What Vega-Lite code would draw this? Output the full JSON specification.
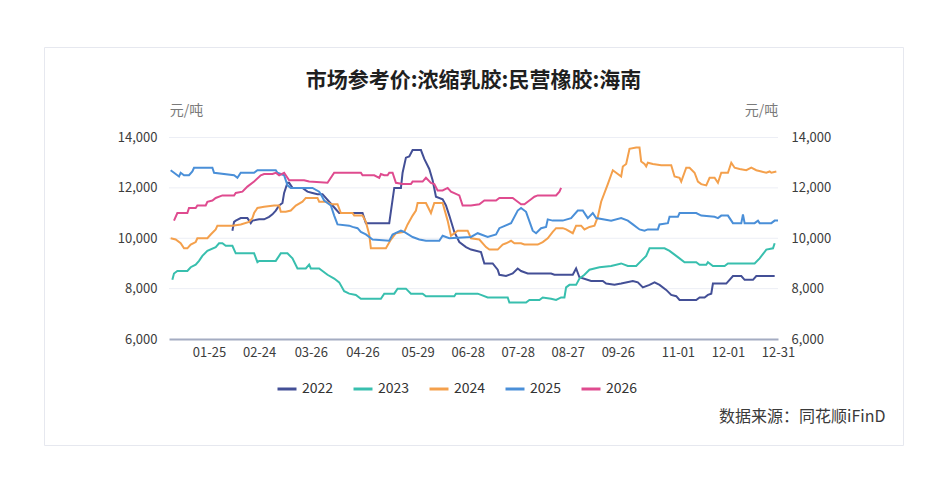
{
  "$schema": "https://vega.github.io/schema/vega-lite/v6.json",
  "width": 859,
  "height": 398,
  "autosize": {"type": "none"},
  "padding": {"left": 44, "top": 47, "right": 46, "bottom": 57},
  "background": "white",
  "title": {
    "text": "市场参考价:浓缩乳胶:民营橡胶:海南",
    "anchor": "middle",
    "offset": -44,
    "fontSize": 21,
    "fontWeight": "bold",
    "color": "#1f1f1f",
    "font": "Noto Sans CJK SC"
  },
  "config": {
    "font": "Noto Sans CJK SC",
    "view": {"stroke": "#e6e8ef", "strokeWidth": 1}
  },
  "datasets": {
    "grid": [{"price": 8000}, {"price": 10000}, {"price": 12000}, {"price": 14000}],
    "prices": [
      {"year": "2022", "date": "2022-02-08", "price": 10300},
      {"year": "2022", "date": "2022-02-09", "price": 10650},
      {"year": "2022", "date": "2022-02-10", "price": 10700},
      {"year": "2022", "date": "2022-02-13", "price": 10800},
      {"year": "2022", "date": "2022-02-17", "price": 10800},
      {"year": "2022", "date": "2022-02-19", "price": 10600},
      {"year": "2022", "date": "2022-02-20", "price": 10700},
      {"year": "2022", "date": "2022-02-24", "price": 10750},
      {"year": "2022", "date": "2022-02-27", "price": 10750},
      {"year": "2022", "date": "2022-03-01", "price": 10850},
      {"year": "2022", "date": "2022-03-03", "price": 10950},
      {"year": "2022", "date": "2022-03-05", "price": 11100},
      {"year": "2022", "date": "2022-03-07", "price": 11300},
      {"year": "2022", "date": "2022-03-09", "price": 11400},
      {"year": "2022", "date": "2022-03-10", "price": 11800},
      {"year": "2022", "date": "2022-03-12", "price": 12200},
      {"year": "2022", "date": "2022-03-13", "price": 12200},
      {"year": "2022", "date": "2022-03-15", "price": 12000},
      {"year": "2022", "date": "2022-03-21", "price": 12000},
      {"year": "2022", "date": "2022-03-24", "price": 11850},
      {"year": "2022", "date": "2022-03-27", "price": 11800},
      {"year": "2022", "date": "2022-03-30", "price": 11750},
      {"year": "2022", "date": "2022-04-02", "price": 11750},
      {"year": "2022", "date": "2022-04-06", "price": 11450},
      {"year": "2022", "date": "2022-04-10", "price": 11150},
      {"year": "2022", "date": "2022-04-12", "price": 11000},
      {"year": "2022", "date": "2022-04-26", "price": 11000},
      {"year": "2022", "date": "2022-04-28", "price": 10600},
      {"year": "2022", "date": "2022-05-12", "price": 10600},
      {"year": "2022", "date": "2022-05-15", "price": 12000},
      {"year": "2022", "date": "2022-05-19", "price": 12000},
      {"year": "2022", "date": "2022-05-20", "price": 12600},
      {"year": "2022", "date": "2022-05-22", "price": 13200},
      {"year": "2022", "date": "2022-05-24", "price": 13250},
      {"year": "2022", "date": "2022-05-26", "price": 13500},
      {"year": "2022", "date": "2022-05-31", "price": 13500},
      {"year": "2022", "date": "2022-06-02", "price": 13150},
      {"year": "2022", "date": "2022-06-05", "price": 12750},
      {"year": "2022", "date": "2022-06-07", "price": 12300},
      {"year": "2022", "date": "2022-06-09", "price": 11650},
      {"year": "2022", "date": "2022-06-13", "price": 11550},
      {"year": "2022", "date": "2022-06-15", "price": 11300},
      {"year": "2022", "date": "2022-06-17", "price": 10900},
      {"year": "2022", "date": "2022-06-20", "price": 10250},
      {"year": "2022", "date": "2022-06-23", "price": 9850},
      {"year": "2022", "date": "2022-06-27", "price": 9650},
      {"year": "2022", "date": "2022-06-30", "price": 9550},
      {"year": "2022", "date": "2022-07-06", "price": 9450},
      {"year": "2022", "date": "2022-07-08", "price": 9000},
      {"year": "2022", "date": "2022-07-13", "price": 9000},
      {"year": "2022", "date": "2022-07-16", "price": 8750},
      {"year": "2022", "date": "2022-07-17", "price": 8550},
      {"year": "2022", "date": "2022-07-21", "price": 8500},
      {"year": "2022", "date": "2022-07-25", "price": 8600},
      {"year": "2022", "date": "2022-07-28", "price": 8800},
      {"year": "2022", "date": "2022-07-30", "price": 8700},
      {"year": "2022", "date": "2022-08-03", "price": 8600},
      {"year": "2022", "date": "2022-08-17", "price": 8600},
      {"year": "2022", "date": "2022-08-19", "price": 8550},
      {"year": "2022", "date": "2022-08-30", "price": 8550},
      {"year": "2022", "date": "2022-09-01", "price": 8800},
      {"year": "2022", "date": "2022-09-03", "price": 8450},
      {"year": "2022", "date": "2022-09-10", "price": 8300},
      {"year": "2022", "date": "2022-09-17", "price": 8300},
      {"year": "2022", "date": "2022-09-19", "price": 8200},
      {"year": "2022", "date": "2022-09-24", "price": 8150},
      {"year": "2022", "date": "2022-09-28", "price": 8200},
      {"year": "2022", "date": "2022-10-05", "price": 8300},
      {"year": "2022", "date": "2022-10-08", "price": 8250},
      {"year": "2022", "date": "2022-10-11", "price": 8050},
      {"year": "2022", "date": "2022-10-15", "price": 8150},
      {"year": "2022", "date": "2022-10-18", "price": 8250},
      {"year": "2022", "date": "2022-10-21", "price": 8150},
      {"year": "2022", "date": "2022-10-25", "price": 7950},
      {"year": "2022", "date": "2022-10-28", "price": 7750},
      {"year": "2022", "date": "2022-10-31", "price": 7700},
      {"year": "2022", "date": "2022-11-02", "price": 7550},
      {"year": "2022", "date": "2022-11-12", "price": 7550},
      {"year": "2022", "date": "2022-11-14", "price": 7650},
      {"year": "2022", "date": "2022-11-17", "price": 7650},
      {"year": "2022", "date": "2022-11-19", "price": 7750},
      {"year": "2022", "date": "2022-11-21", "price": 7800},
      {"year": "2022", "date": "2022-11-22", "price": 8200},
      {"year": "2022", "date": "2022-11-30", "price": 8200},
      {"year": "2022", "date": "2022-12-04", "price": 8500},
      {"year": "2022", "date": "2022-12-09", "price": 8500},
      {"year": "2022", "date": "2022-12-11", "price": 8350},
      {"year": "2022", "date": "2022-12-16", "price": 8350},
      {"year": "2022", "date": "2022-12-18", "price": 8500},
      {"year": "2022", "date": "2022-12-29", "price": 8500},

      {"year": "2023", "date": "2023-01-03", "price": 8350},
      {"year": "2023", "date": "2023-01-04", "price": 8600},
      {"year": "2023", "date": "2023-01-06", "price": 8700},
      {"year": "2023", "date": "2023-01-12", "price": 8700},
      {"year": "2023", "date": "2023-01-14", "price": 8850},
      {"year": "2023", "date": "2023-01-17", "price": 8950},
      {"year": "2023", "date": "2023-01-19", "price": 9100},
      {"year": "2023", "date": "2023-01-21", "price": 9300},
      {"year": "2023", "date": "2023-01-24", "price": 9500},
      {"year": "2023", "date": "2023-01-29", "price": 9650},
      {"year": "2023", "date": "2023-01-31", "price": 9800},
      {"year": "2023", "date": "2023-02-02", "price": 9800},
      {"year": "2023", "date": "2023-02-04", "price": 9700},
      {"year": "2023", "date": "2023-02-08", "price": 9700},
      {"year": "2023", "date": "2023-02-10", "price": 9400},
      {"year": "2023", "date": "2023-02-21", "price": 9400},
      {"year": "2023", "date": "2023-02-23", "price": 9050},
      {"year": "2023", "date": "2023-02-24", "price": 9100},
      {"year": "2023", "date": "2023-03-05", "price": 9100},
      {"year": "2023", "date": "2023-03-08", "price": 9400},
      {"year": "2023", "date": "2023-03-12", "price": 9400},
      {"year": "2023", "date": "2023-03-15", "price": 9200},
      {"year": "2023", "date": "2023-03-18", "price": 8800},
      {"year": "2023", "date": "2023-03-23", "price": 8800},
      {"year": "2023", "date": "2023-03-25", "price": 8950},
      {"year": "2023", "date": "2023-03-26", "price": 8800},
      {"year": "2023", "date": "2023-03-31", "price": 8800},
      {"year": "2023", "date": "2023-04-01", "price": 8750},
      {"year": "2023", "date": "2023-04-05", "price": 8550},
      {"year": "2023", "date": "2023-04-09", "price": 8400},
      {"year": "2023", "date": "2023-04-12", "price": 8250},
      {"year": "2023", "date": "2023-04-15", "price": 7900},
      {"year": "2023", "date": "2023-04-18", "price": 7800},
      {"year": "2023", "date": "2023-04-22", "price": 7750},
      {"year": "2023", "date": "2023-04-25", "price": 7600},
      {"year": "2023", "date": "2023-05-07", "price": 7600},
      {"year": "2023", "date": "2023-05-09", "price": 7800},
      {"year": "2023", "date": "2023-05-15", "price": 7800},
      {"year": "2023", "date": "2023-05-17", "price": 8000},
      {"year": "2023", "date": "2023-05-22", "price": 8000},
      {"year": "2023", "date": "2023-05-25", "price": 7800},
      {"year": "2023", "date": "2023-06-01", "price": 7800},
      {"year": "2023", "date": "2023-06-03", "price": 7700},
      {"year": "2023", "date": "2023-06-20", "price": 7700},
      {"year": "2023", "date": "2023-06-21", "price": 7800},
      {"year": "2023", "date": "2023-07-04", "price": 7800},
      {"year": "2023", "date": "2023-07-06", "price": 7750},
      {"year": "2023", "date": "2023-07-10", "price": 7650},
      {"year": "2023", "date": "2023-07-22", "price": 7650},
      {"year": "2023", "date": "2023-07-23", "price": 7450},
      {"year": "2023", "date": "2023-08-02", "price": 7450},
      {"year": "2023", "date": "2023-08-04", "price": 7550},
      {"year": "2023", "date": "2023-08-10", "price": 7550},
      {"year": "2023", "date": "2023-08-12", "price": 7650},
      {"year": "2023", "date": "2023-08-17", "price": 7600},
      {"year": "2023", "date": "2023-08-20", "price": 7550},
      {"year": "2023", "date": "2023-08-23", "price": 7650},
      {"year": "2023", "date": "2023-08-25", "price": 7650},
      {"year": "2023", "date": "2023-08-26", "price": 8050},
      {"year": "2023", "date": "2023-08-28", "price": 8150},
      {"year": "2023", "date": "2023-09-01", "price": 8150},
      {"year": "2023", "date": "2023-09-03", "price": 8400},
      {"year": "2023", "date": "2023-09-06", "price": 8550},
      {"year": "2023", "date": "2023-09-09", "price": 8750},
      {"year": "2023", "date": "2023-09-15", "price": 8850},
      {"year": "2023", "date": "2023-09-22", "price": 8900},
      {"year": "2023", "date": "2023-09-28", "price": 9000},
      {"year": "2023", "date": "2023-10-02", "price": 8900},
      {"year": "2023", "date": "2023-10-07", "price": 8900},
      {"year": "2023", "date": "2023-10-10", "price": 9100},
      {"year": "2023", "date": "2023-10-13", "price": 9300},
      {"year": "2023", "date": "2023-10-15", "price": 9600},
      {"year": "2023", "date": "2023-10-24", "price": 9600},
      {"year": "2023", "date": "2023-10-27", "price": 9500},
      {"year": "2023", "date": "2023-10-30", "price": 9350},
      {"year": "2023", "date": "2023-11-01", "price": 9250},
      {"year": "2023", "date": "2023-11-05", "price": 9050},
      {"year": "2023", "date": "2023-11-12", "price": 9050},
      {"year": "2023", "date": "2023-11-14", "price": 8950},
      {"year": "2023", "date": "2023-11-18", "price": 8950},
      {"year": "2023", "date": "2023-11-19", "price": 9050},
      {"year": "2023", "date": "2023-11-22", "price": 8900},
      {"year": "2023", "date": "2023-11-29", "price": 8900},
      {"year": "2023", "date": "2023-12-01", "price": 9000},
      {"year": "2023", "date": "2023-12-17", "price": 9000},
      {"year": "2023", "date": "2023-12-20", "price": 9200},
      {"year": "2023", "date": "2023-12-24", "price": 9550},
      {"year": "2023", "date": "2023-12-28", "price": 9600},
      {"year": "2023", "date": "2023-12-29", "price": 9800},

      {"year": "2024", "date": "2024-01-02", "price": 10000},
      {"year": "2024", "date": "2024-01-05", "price": 9950},
      {"year": "2024", "date": "2024-01-08", "price": 9800},
      {"year": "2024", "date": "2024-01-10", "price": 9600},
      {"year": "2024", "date": "2024-01-12", "price": 9600},
      {"year": "2024", "date": "2024-01-14", "price": 9750},
      {"year": "2024", "date": "2024-01-17", "price": 9850},
      {"year": "2024", "date": "2024-01-18", "price": 10000},
      {"year": "2024", "date": "2024-01-24", "price": 10000},
      {"year": "2024", "date": "2024-01-26", "price": 10150},
      {"year": "2024", "date": "2024-01-29", "price": 10350},
      {"year": "2024", "date": "2024-01-30", "price": 10500},
      {"year": "2024", "date": "2024-02-08", "price": 10500},
      {"year": "2024", "date": "2024-02-13", "price": 10550},
      {"year": "2024", "date": "2024-02-18", "price": 10650},
      {"year": "2024", "date": "2024-02-20", "price": 10800},
      {"year": "2024", "date": "2024-02-21", "price": 11000},
      {"year": "2024", "date": "2024-02-23", "price": 11200},
      {"year": "2024", "date": "2024-02-27", "price": 11250},
      {"year": "2024", "date": "2024-03-04", "price": 11300},
      {"year": "2024", "date": "2024-03-07", "price": 11300},
      {"year": "2024", "date": "2024-03-08", "price": 11050},
      {"year": "2024", "date": "2024-03-11", "price": 11050},
      {"year": "2024", "date": "2024-03-14", "price": 11100},
      {"year": "2024", "date": "2024-03-17", "price": 11300},
      {"year": "2024", "date": "2024-03-21", "price": 11450},
      {"year": "2024", "date": "2024-03-23", "price": 11600},
      {"year": "2024", "date": "2024-03-30", "price": 11600},
      {"year": "2024", "date": "2024-03-31", "price": 11450},
      {"year": "2024", "date": "2024-04-04", "price": 11450},
      {"year": "2024", "date": "2024-04-07", "price": 11350},
      {"year": "2024", "date": "2024-04-11", "price": 11350},
      {"year": "2024", "date": "2024-04-13", "price": 11000},
      {"year": "2024", "date": "2024-04-20", "price": 11000},
      {"year": "2024", "date": "2024-04-21", "price": 10900},
      {"year": "2024", "date": "2024-04-26", "price": 10900},
      {"year": "2024", "date": "2024-04-28", "price": 10650},
      {"year": "2024", "date": "2024-04-30", "price": 10150},
      {"year": "2024", "date": "2024-05-01", "price": 9600},
      {"year": "2024", "date": "2024-05-10", "price": 9600},
      {"year": "2024", "date": "2024-05-13", "price": 9950},
      {"year": "2024", "date": "2024-05-16", "price": 10200},
      {"year": "2024", "date": "2024-05-21", "price": 10250},
      {"year": "2024", "date": "2024-05-23", "price": 10550},
      {"year": "2024", "date": "2024-05-26", "price": 10900},
      {"year": "2024", "date": "2024-05-28", "price": 11100},
      {"year": "2024", "date": "2024-05-29", "price": 11400},
      {"year": "2024", "date": "2024-06-03", "price": 11400},
      {"year": "2024", "date": "2024-06-06", "price": 11000},
      {"year": "2024", "date": "2024-06-08", "price": 11400},
      {"year": "2024", "date": "2024-06-13", "price": 11400},
      {"year": "2024", "date": "2024-06-16", "price": 10700},
      {"year": "2024", "date": "2024-06-18", "price": 10100},
      {"year": "2024", "date": "2024-06-22", "price": 10300},
      {"year": "2024", "date": "2024-06-28", "price": 10300},
      {"year": "2024", "date": "2024-06-30", "price": 10000},
      {"year": "2024", "date": "2024-07-05", "price": 9950},
      {"year": "2024", "date": "2024-07-09", "price": 9650},
      {"year": "2024", "date": "2024-07-11", "price": 9550},
      {"year": "2024", "date": "2024-07-16", "price": 9550},
      {"year": "2024", "date": "2024-07-19", "price": 9750},
      {"year": "2024", "date": "2024-07-21", "price": 9800},
      {"year": "2024", "date": "2024-07-24", "price": 9900},
      {"year": "2024", "date": "2024-07-26", "price": 9800},
      {"year": "2024", "date": "2024-07-30", "price": 9800},
      {"year": "2024", "date": "2024-08-01", "price": 9750},
      {"year": "2024", "date": "2024-08-09", "price": 9750},
      {"year": "2024", "date": "2024-08-12", "price": 9850},
      {"year": "2024", "date": "2024-08-15", "price": 10000},
      {"year": "2024", "date": "2024-08-18", "price": 10250},
      {"year": "2024", "date": "2024-08-20", "price": 10400},
      {"year": "2024", "date": "2024-08-24", "price": 10400},
      {"year": "2024", "date": "2024-08-26", "price": 10350},
      {"year": "2024", "date": "2024-08-30", "price": 10200},
      {"year": "2024", "date": "2024-09-01", "price": 10500},
      {"year": "2024", "date": "2024-09-04", "price": 10500},
      {"year": "2024", "date": "2024-09-06", "price": 10350},
      {"year": "2024", "date": "2024-09-09", "price": 10450},
      {"year": "2024", "date": "2024-09-12", "price": 10500},
      {"year": "2024", "date": "2024-09-14", "price": 10850},
      {"year": "2024", "date": "2024-09-16", "price": 11450},
      {"year": "2024", "date": "2024-09-20", "price": 12150},
      {"year": "2024", "date": "2024-09-23", "price": 12700},
      {"year": "2024", "date": "2024-09-26", "price": 12550},
      {"year": "2024", "date": "2024-09-28", "price": 12450},
      {"year": "2024", "date": "2024-09-29", "price": 12850},
      {"year": "2024", "date": "2024-10-01", "price": 12950},
      {"year": "2024", "date": "2024-10-03", "price": 13550},
      {"year": "2024", "date": "2024-10-07", "price": 13600},
      {"year": "2024", "date": "2024-10-09", "price": 13600},
      {"year": "2024", "date": "2024-10-10", "price": 13050},
      {"year": "2024", "date": "2024-10-12", "price": 12950},
      {"year": "2024", "date": "2024-10-13", "price": 12850},
      {"year": "2024", "date": "2024-10-14", "price": 13000},
      {"year": "2024", "date": "2024-10-17", "price": 12950},
      {"year": "2024", "date": "2024-10-22", "price": 12900},
      {"year": "2024", "date": "2024-10-28", "price": 12900},
      {"year": "2024", "date": "2024-10-30", "price": 12450},
      {"year": "2024", "date": "2024-11-02", "price": 12400},
      {"year": "2024", "date": "2024-11-03", "price": 12250},
      {"year": "2024", "date": "2024-11-06", "price": 12800},
      {"year": "2024", "date": "2024-11-08", "price": 12800},
      {"year": "2024", "date": "2024-11-11", "price": 12600},
      {"year": "2024", "date": "2024-11-13", "price": 12250},
      {"year": "2024", "date": "2024-11-15", "price": 12150},
      {"year": "2024", "date": "2024-11-18", "price": 12100},
      {"year": "2024", "date": "2024-11-20", "price": 12400},
      {"year": "2024", "date": "2024-11-23", "price": 12400},
      {"year": "2024", "date": "2024-11-25", "price": 12200},
      {"year": "2024", "date": "2024-11-27", "price": 12600},
      {"year": "2024", "date": "2024-12-01", "price": 12600},
      {"year": "2024", "date": "2024-12-03", "price": 13000},
      {"year": "2024", "date": "2024-12-05", "price": 12800},
      {"year": "2024", "date": "2024-12-08", "price": 12750},
      {"year": "2024", "date": "2024-12-12", "price": 12700},
      {"year": "2024", "date": "2024-12-15", "price": 12800},
      {"year": "2024", "date": "2024-12-18", "price": 12700},
      {"year": "2024", "date": "2024-12-21", "price": 12650},
      {"year": "2024", "date": "2024-12-24", "price": 12600},
      {"year": "2024", "date": "2024-12-26", "price": 12650},
      {"year": "2024", "date": "2024-12-27", "price": 12600},
      {"year": "2024", "date": "2024-12-30", "price": 12650},

      {"year": "2025", "date": "2025-01-02", "price": 12700},
      {"year": "2025", "date": "2025-01-04", "price": 12600},
      {"year": "2025", "date": "2025-01-07", "price": 12450},
      {"year": "2025", "date": "2025-01-08", "price": 12600},
      {"year": "2025", "date": "2025-01-10", "price": 12500},
      {"year": "2025", "date": "2025-01-13", "price": 12500},
      {"year": "2025", "date": "2025-01-15", "price": 12650},
      {"year": "2025", "date": "2025-01-16", "price": 12800},
      {"year": "2025", "date": "2025-01-27", "price": 12800},
      {"year": "2025", "date": "2025-01-28", "price": 12600},
      {"year": "2025", "date": "2025-02-09", "price": 12500},
      {"year": "2025", "date": "2025-02-11", "price": 12400},
      {"year": "2025", "date": "2025-02-13", "price": 12600},
      {"year": "2025", "date": "2025-02-21", "price": 12600},
      {"year": "2025", "date": "2025-02-23", "price": 12700},
      {"year": "2025", "date": "2025-03-05", "price": 12700},
      {"year": "2025", "date": "2025-03-06", "price": 12600},
      {"year": "2025", "date": "2025-03-10", "price": 12500},
      {"year": "2025", "date": "2025-03-12", "price": 12100},
      {"year": "2025", "date": "2025-03-14", "price": 12000},
      {"year": "2025", "date": "2025-03-27", "price": 12000},
      {"year": "2025", "date": "2025-03-31", "price": 11850},
      {"year": "2025", "date": "2025-04-01", "price": 11750},
      {"year": "2025", "date": "2025-04-03", "price": 11500},
      {"year": "2025", "date": "2025-04-07", "price": 11300},
      {"year": "2025", "date": "2025-04-09", "price": 10900},
      {"year": "2025", "date": "2025-04-11", "price": 10550},
      {"year": "2025", "date": "2025-04-18", "price": 10500},
      {"year": "2025", "date": "2025-04-20", "price": 10450},
      {"year": "2025", "date": "2025-04-23", "price": 10400},
      {"year": "2025", "date": "2025-04-25", "price": 10250},
      {"year": "2025", "date": "2025-04-28", "price": 10150},
      {"year": "2025", "date": "2025-05-02", "price": 9950},
      {"year": "2025", "date": "2025-05-12", "price": 9900},
      {"year": "2025", "date": "2025-05-14", "price": 10150},
      {"year": "2025", "date": "2025-05-19", "price": 10300},
      {"year": "2025", "date": "2025-05-21", "price": 10250},
      {"year": "2025", "date": "2025-05-26", "price": 10050},
      {"year": "2025", "date": "2025-05-30", "price": 9950},
      {"year": "2025", "date": "2025-06-03", "price": 9900},
      {"year": "2025", "date": "2025-06-11", "price": 9900},
      {"year": "2025", "date": "2025-06-13", "price": 10100},
      {"year": "2025", "date": "2025-06-17", "price": 10000},
      {"year": "2025", "date": "2025-06-30", "price": 10050},
      {"year": "2025", "date": "2025-07-04", "price": 10200},
      {"year": "2025", "date": "2025-07-10", "price": 10050},
      {"year": "2025", "date": "2025-07-15", "price": 10150},
      {"year": "2025", "date": "2025-07-17", "price": 10400},
      {"year": "2025", "date": "2025-07-24", "price": 10600},
      {"year": "2025", "date": "2025-07-28", "price": 11100},
      {"year": "2025", "date": "2025-07-30", "price": 11200},
      {"year": "2025", "date": "2025-08-02", "price": 11050},
      {"year": "2025", "date": "2025-08-06", "price": 10300},
      {"year": "2025", "date": "2025-08-08", "price": 10200},
      {"year": "2025", "date": "2025-08-11", "price": 10400},
      {"year": "2025", "date": "2025-08-14", "price": 10450},
      {"year": "2025", "date": "2025-08-15", "price": 10750},
      {"year": "2025", "date": "2025-08-18", "price": 10700},
      {"year": "2025", "date": "2025-08-24", "price": 10700},
      {"year": "2025", "date": "2025-08-29", "price": 10800},
      {"year": "2025", "date": "2025-09-02", "price": 11100},
      {"year": "2025", "date": "2025-09-05", "price": 11100},
      {"year": "2025", "date": "2025-09-07", "price": 10900},
      {"year": "2025", "date": "2025-09-08", "price": 10800},
      {"year": "2025", "date": "2025-09-11", "price": 11000},
      {"year": "2025", "date": "2025-09-13", "price": 10800},
      {"year": "2025", "date": "2025-09-22", "price": 10700},
      {"year": "2025", "date": "2025-09-28", "price": 10800},
      {"year": "2025", "date": "2025-10-02", "price": 10700},
      {"year": "2025", "date": "2025-10-05", "price": 10550},
      {"year": "2025", "date": "2025-10-09", "price": 10350},
      {"year": "2025", "date": "2025-10-12", "price": 10300},
      {"year": "2025", "date": "2025-10-14", "price": 10350},
      {"year": "2025", "date": "2025-10-20", "price": 10350},
      {"year": "2025", "date": "2025-10-21", "price": 10550},
      {"year": "2025", "date": "2025-10-26", "price": 10600},
      {"year": "2025", "date": "2025-10-27", "price": 10850},
      {"year": "2025", "date": "2025-11-01", "price": 10850},
      {"year": "2025", "date": "2025-11-02", "price": 11000},
      {"year": "2025", "date": "2025-11-12", "price": 11000},
      {"year": "2025", "date": "2025-11-15", "price": 10900},
      {"year": "2025", "date": "2025-11-23", "price": 10850},
      {"year": "2025", "date": "2025-11-25", "price": 10800},
      {"year": "2025", "date": "2025-11-27", "price": 10900},
      {"year": "2025", "date": "2025-12-01", "price": 10900},
      {"year": "2025", "date": "2025-12-04", "price": 10600},
      {"year": "2025", "date": "2025-12-09", "price": 10600},
      {"year": "2025", "date": "2025-12-10", "price": 10950},
      {"year": "2025", "date": "2025-12-11", "price": 10600},
      {"year": "2025", "date": "2025-12-17", "price": 10600},
      {"year": "2025", "date": "2025-12-19", "price": 10700},
      {"year": "2025", "date": "2025-12-20", "price": 10600},
      {"year": "2025", "date": "2025-12-27", "price": 10600},
      {"year": "2025", "date": "2025-12-29", "price": 10700},
      {"year": "2025", "date": "2025-12-31", "price": 10700},

      {"year": "2026", "date": "2026-01-04", "price": 10700},
      {"year": "2026", "date": "2026-01-06", "price": 11000},
      {"year": "2026", "date": "2026-01-12", "price": 11000},
      {"year": "2026", "date": "2026-01-13", "price": 11200},
      {"year": "2026", "date": "2026-01-17", "price": 11200},
      {"year": "2026", "date": "2026-01-18", "price": 11300},
      {"year": "2026", "date": "2026-01-23", "price": 11300},
      {"year": "2026", "date": "2026-01-24", "price": 11450},
      {"year": "2026", "date": "2026-01-27", "price": 11500},
      {"year": "2026", "date": "2026-01-29", "price": 11600},
      {"year": "2026", "date": "2026-02-02", "price": 11700},
      {"year": "2026", "date": "2026-02-09", "price": 11700},
      {"year": "2026", "date": "2026-02-10", "price": 11800},
      {"year": "2026", "date": "2026-02-14", "price": 11850},
      {"year": "2026", "date": "2026-02-17", "price": 12050},
      {"year": "2026", "date": "2026-02-21", "price": 12250},
      {"year": "2026", "date": "2026-02-25", "price": 12500},
      {"year": "2026", "date": "2026-02-27", "price": 12550},
      {"year": "2026", "date": "2026-03-03", "price": 12550},
      {"year": "2026", "date": "2026-03-05", "price": 12600},
      {"year": "2026", "date": "2026-03-07", "price": 12500},
      {"year": "2026", "date": "2026-03-10", "price": 12600},
      {"year": "2026", "date": "2026-03-12", "price": 12400},
      {"year": "2026", "date": "2026-03-13", "price": 12300},
      {"year": "2026", "date": "2026-03-22", "price": 12300},
      {"year": "2026", "date": "2026-03-25", "price": 12250},
      {"year": "2026", "date": "2026-04-05", "price": 12200},
      {"year": "2026", "date": "2026-04-09", "price": 12600},
      {"year": "2026", "date": "2026-04-25", "price": 12600},
      {"year": "2026", "date": "2026-04-26", "price": 12500},
      {"year": "2026", "date": "2026-05-03", "price": 12500},
      {"year": "2026", "date": "2026-05-06", "price": 12400},
      {"year": "2026", "date": "2026-05-07", "price": 12550},
      {"year": "2026", "date": "2026-05-09", "price": 12500},
      {"year": "2026", "date": "2026-05-11", "price": 12500},
      {"year": "2026", "date": "2026-05-12", "price": 12600},
      {"year": "2026", "date": "2026-05-14", "price": 12600},
      {"year": "2026", "date": "2026-05-16", "price": 12200},
      {"year": "2026", "date": "2026-05-20", "price": 12150},
      {"year": "2026", "date": "2026-05-25", "price": 12150},
      {"year": "2026", "date": "2026-05-26", "price": 12250},
      {"year": "2026", "date": "2026-06-01", "price": 12250},
      {"year": "2026", "date": "2026-06-03", "price": 12400},
      {"year": "2026", "date": "2026-06-06", "price": 12200},
      {"year": "2026", "date": "2026-06-08", "price": 12150},
      {"year": "2026", "date": "2026-06-10", "price": 11900},
      {"year": "2026", "date": "2026-06-13", "price": 11900},
      {"year": "2026", "date": "2026-06-16", "price": 12000},
      {"year": "2026", "date": "2026-06-18", "price": 11850},
      {"year": "2026", "date": "2026-06-23", "price": 11700},
      {"year": "2026", "date": "2026-06-25", "price": 11300},
      {"year": "2026", "date": "2026-06-30", "price": 11300},
      {"year": "2026", "date": "2026-07-05", "price": 11350},
      {"year": "2026", "date": "2026-07-08", "price": 11500},
      {"year": "2026", "date": "2026-07-15", "price": 11500},
      {"year": "2026", "date": "2026-07-17", "price": 11600},
      {"year": "2026", "date": "2026-07-25", "price": 11600},
      {"year": "2026", "date": "2026-07-27", "price": 11500},
      {"year": "2026", "date": "2026-07-30", "price": 11350},
      {"year": "2026", "date": "2026-08-01", "price": 11350},
      {"year": "2026", "date": "2026-08-03", "price": 11450},
      {"year": "2026", "date": "2026-08-05", "price": 11550},
      {"year": "2026", "date": "2026-08-07", "price": 11650},
      {"year": "2026", "date": "2026-08-09", "price": 11700},
      {"year": "2026", "date": "2026-08-20", "price": 11700},
      {"year": "2026", "date": "2026-08-22", "price": 11850},
      {"year": "2026", "date": "2026-08-23", "price": 12000}
    ]
  },
  "layer": [
    {
      "data": {"name": "grid"},
      "mark": {"type": "rule", "color": "#eceef5", "strokeWidth": 1},
      "encoding": {
        "x": {"datum": {"year": 2012, "month": 1, "date": 1, "utc": true}, "type": "temporal", "axis": null},
        "x2": {"datum": {"year": 2012, "month": 12, "date": 31, "utc": true}},
        "y": {
          "field": "price",
          "type": "quantitative",
          "axis": {
            "orient": "right",
            "offset": -125,
            "values": [6000, 8000, 10000, 12000, 14000],
            "format": ",d",
            "labelFontSize": 13,
            "labelColor": "#3c3c3c",
            "labelPadding": 13,
            "ticks": false,
            "domain": false,
            "grid": false,
            "title": "元/吨",
            "titleAngle": 0,
            "titleX": -17,
            "titleY": 63,
            "titleAlign": "center",
            "titleBaseline": "middle",
            "titleFontSize": 14,
            "titleFontWeight": "normal",
            "titleColor": "#7a7a7a"
          }
        }
      }
    },
    {
      "data": {"name": "prices"},
      "mark": {"type": "line", "strokeWidth": 2},
      "encoding": {
        "x": {
          "field": "date",
          "timeUnit": "utcmonthdate",
          "type": "temporal",
          "scale": {
            "type": "utc",
            "domain": [
              {"year": 2012, "month": 1, "date": 1, "utc": true},
              {"year": 2012, "month": 12, "date": 31, "utc": true}
            ],
            "range": [125, 734]
          },
          "axis": {
            "orient": "bottom",
            "offset": -106,
            "values": [
              {"year": 2012, "month": 1, "date": 25, "utc": true},
              {"year": 2012, "month": 2, "date": 24, "utc": true},
              {"year": 2012, "month": 3, "date": 26, "utc": true},
              {"year": 2012, "month": 4, "date": 26, "utc": true},
              {"year": 2012, "month": 5, "date": 29, "utc": true},
              {"year": 2012, "month": 6, "date": 28, "utc": true},
              {"year": 2012, "month": 7, "date": 28, "utc": true},
              {"year": 2012, "month": 8, "date": 27, "utc": true},
              {"year": 2012, "month": 9, "date": 26, "utc": true},
              {"year": 2012, "month": 11, "date": 1, "utc": true},
              {"year": 2012, "month": 12, "date": 1, "utc": true},
              {"year": 2012, "month": 12, "date": 31, "utc": true}
            ],
            "format": "%m-%d",
            "labelFontSize": 13,
            "labelColor": "#3c3c3c",
            "labelPadding": 7,
            "labelFlush": false,
            "labelOverlap": false,
            "labelBound": false,
            "ticks": false,
            "grid": false,
            "domainColor": "#a4acc2",
            "domainWidth": 2,
            "title": "数据来源：同花顺iFinD",
            "titleX": 841,
            "titleY": 77,
            "titleAlign": "right",
            "titleBaseline": "middle",
            "titleFontSize": 16,
            "titleFontWeight": "normal",
            "titleColor": "#3a3a3a"
          }
        },
        "y": {
          "field": "price",
          "type": "quantitative",
          "scale": {"domain": [6000, 14000], "range": [292, 90.5], "nice": false, "zero": false},
          "axis": {
            "orient": "left",
            "offset": -125,
            "values": [6000, 8000, 10000, 12000, 14000],
            "format": ",d",
            "labelFontSize": 13,
            "labelColor": "#3c3c3c",
            "labelPadding": 12,
            "ticks": false,
            "domain": false,
            "grid": false,
            "title": "元/吨",
            "titleAngle": 0,
            "titleX": 17,
            "titleY": 63,
            "titleAlign": "center",
            "titleBaseline": "middle",
            "titleFontSize": 14,
            "titleFontWeight": "normal",
            "titleColor": "#7a7a7a"
          }
        },
        "color": {
          "field": "year",
          "type": "nominal",
          "scale": {
            "domain": ["2022", "2023", "2024", "2025", "2026"],
            "range": ["#434f96", "#38bfae", "#f4a04c", "#4a8fd8", "#df4b8f"]
          },
          "legend": {
            "orient": "none",
            "legendX": 232,
            "legendY": 331,
            "direction": "horizontal",
            "title": null,
            "padding": 0,
            "symbolType": "stroke",
            "symbolSize": 361,
            "symbolStrokeWidth": 3,
            "labelFontSize": 14,
            "labelColor": "#333333",
            "labelOffset": 4,
            "columnPadding": 13
          }
        }
      }
    }
  ],
  "resolve": {"axis": {"x": "independent", "y": "independent"}}
}
